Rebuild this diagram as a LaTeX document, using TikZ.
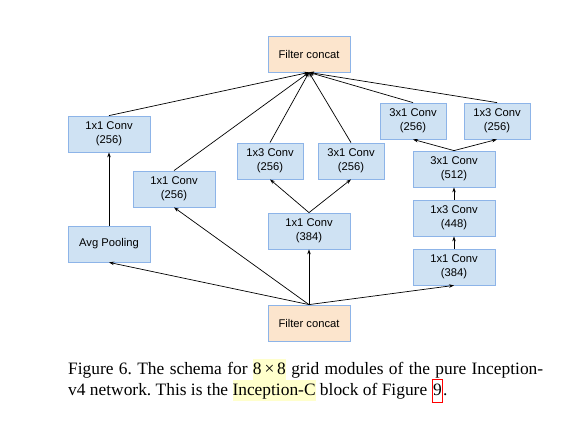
\documentclass[tikz,border=0pt]{standalone}
\usepackage{fontspec}
\setmainfont{Liberation Serif}
\setsansfont{Liberation Sans}
\usetikzlibrary{arrows.meta}
\definecolor{boxfill}{HTML}{CFE2F3}
\definecolor{boxline}{HTML}{8DB4E8}
\definecolor{catfill}{HTML}{FCE5CD}
\definecolor{hlcol}{HTML}{FFFFCC}
\newcommand{\myhl}[1]{{\setlength{\fboxsep}{0pt}\colorbox{hlcol}{\strut #1}}}
\newcommand{\myref}[1]{{\setlength{\fboxsep}{0.5pt}\setlength{\fboxrule}{0.9pt}\fcolorbox{red}{white}{\strut #1}}}
\tikzset{
  blk/.style={draw=boxline, line width=0.8pt, fill=boxfill, minimum width=82pt, minimum height=36pt,
    inner sep=0pt, align=center, font=\sffamily\fontsize{11.2}{14}\selectfont},
  nblk/.style={blk, minimum width=66pt},
  catbox/.style={blk, fill=catfill},
  arr/.style={-{Stealth[length=5pt,width=3.5pt]}, line width=0.7pt},
  captxt/.style={anchor=base west, inner sep=0pt, font=\fontsize{17.4}{21}\selectfont\frenchspacing}
}
\begin{document}
\begin{tikzpicture}[x=1pt,y=-1pt]
\useasboundingbox (0,0) rectangle (565,431);
\node[catbox] (top) at (309,54) {Filter concat};
\node[catbox] (bot) at (309,323) {Filter concat};
\node[blk] (a1) at (109,134) {1x1 Conv\\(256)};
\node[blk] (ap) at (109,244) {Avg Pooling};
\node[blk] (b1) at (174,189) {1x1 Conv\\(256)};
\node[blk] (c0) at (309,231) {1x1 Conv\\(384)};
\node[nblk] (c1) at (270,161) {1x3 Conv\\(256)};
\node[nblk] (c2) at (351,161) {3x1 Conv\\(256)};
\node[blk] (d0) at (454,267) {1x1 Conv\\(384)};
\node[blk] (d1) at (454,218) {1x3 Conv\\(448)};
\node[blk] (d2) at (454,169) {3x1 Conv\\(512)};
\node[nblk] (d3) at (413,121) {3x1 Conv\\(256)};
\node[nblk] (d4) at (497,121) {1x3 Conv\\(256)};

\draw[arr] (bot.north) -- (ap.south);
\draw[arr] (bot.north) -- (b1.south);
\draw[arr] (bot.north) -- (c0.south);
\draw[arr] (bot.north) -- (d0.south);
\draw[arr] (ap.north) -- (a1.south);
\draw[arr] (c0.north) -- (c1.south);
\draw[arr] (c0.north) -- (c2.south);
\draw[arr] (d0.north) -- (d1.south);
\draw[arr] (d1.north) -- (d2.south);
\draw[arr] (d2.north) -- (d3.south);
\draw[arr] (d2.north) -- (d4.south);
\foreach \n in {a1,b1,c1,c2,d3,d4} \draw[arr] (\n.north) -- (top.south);

\node[captxt] (cap1) at (68,374) {\makebox[475pt][s]{Figure 6. The schema for \myhl{8\,×\,8} grid modules of the pure Inception-}};
\node[captxt] (cap2) at (68,395) {v4 network. This is the \myhl{Inception-C} block of Figure \myref{9}.};
\end{tikzpicture}
\end{document}
